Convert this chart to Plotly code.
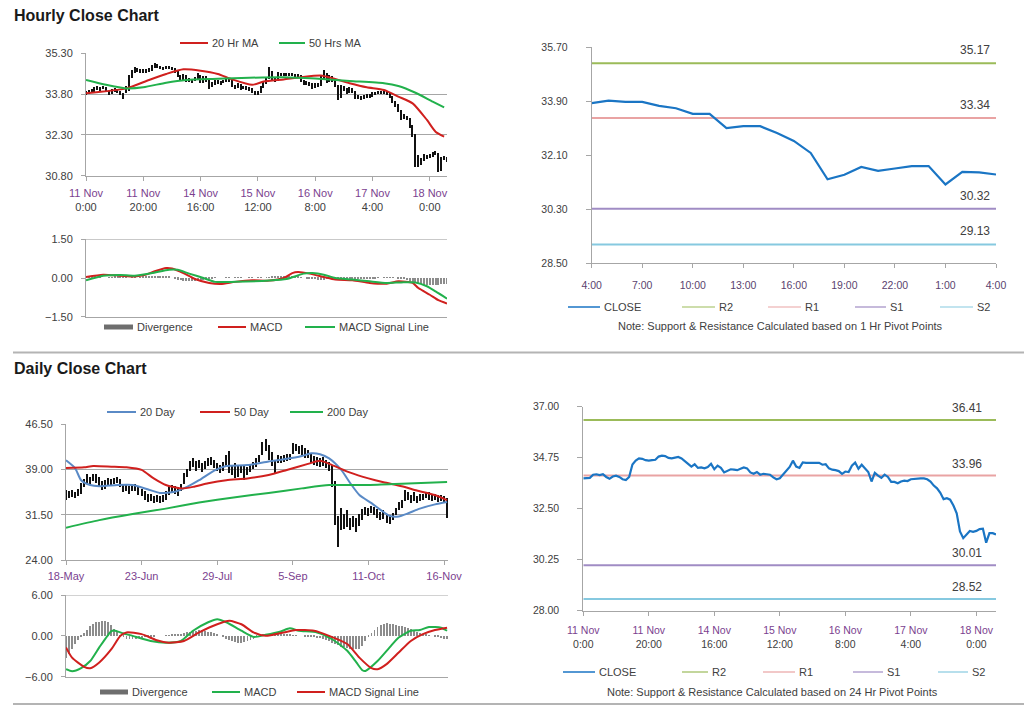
import plotly.graph_objects as go

W, H = 1024, 706
FONT = "Liberation Sans, Arial, sans-serif"
TXT = "#404040"
PURPLE = "#7b3f8f"
AXC = "#a6a6a6"
RED = "#d0201e"
GREEN = "#22b14c"
BLUE = "#5a8ac6"
CLOSE_C = "#1a75c4"
DIV_C = "#8c8c8c"
R2_C, R1_C, S1_C, S2_C = "#9bbb59", "#e9a3a3", "#a08cc4", "#86c9e0"

# ---------------- hourly data (11 Nov 0:00 .. 18 Nov ~5:00) ----------------
h_dates = ["11 Nov", "11 Nov", "14 Nov", "15 Nov", "16 Nov", "17 Nov", "18 Nov"]
h_times = ["0:00", "20:00", "16:00", "12:00", "8:00", "4:00", "0:00"]
h_tickpos = [0, 20, 40, 60, 80, 100, 120]

h_close = [33.84, 33.84, 33.86, 34.00, 34.02, 33.98, 34.02, 33.90, 33.82, 33.92,
           33.96, 33.90, 33.80, 33.76, 33.90, 34.45, 34.62, 34.72, 34.70, 34.64,
           34.62, 34.64, 34.66, 34.80, 34.84, 34.82, 34.74, 34.72, 34.76, 34.78,
           34.72, 34.62, 34.48, 34.36, 34.46, 34.30, 34.32, 34.28, 34.34, 34.48,
           34.24, 34.40, 34.30, 34.10, 34.18, 34.24, 34.22, 34.20, 34.26, 34.32,
           34.28, 34.10, 34.04, 34.12, 34.00, 34.04, 34.02, 34.00, 33.88, 33.80,
           33.84, 34.02, 34.18, 34.34, 34.62, 34.36, 34.30, 34.54, 34.52, 34.52,
           34.52, 34.50, 34.52, 34.44, 34.46, 34.28, 34.22, 34.20, 34.16, 34.04,
           34.14, 34.12, 34.40, 34.54, 34.26, 34.44, 34.30, 34.12, 33.70, 34.08,
           33.96, 33.86, 34.00, 33.90, 33.68, 33.68, 33.62, 33.70, 33.74, 33.72,
           33.80, 33.82, 33.84, 33.84, 33.84, 33.80, 33.70, 33.52, 33.40, 33.20,
           32.92, 32.96, 32.90, 32.64, 32.30, 31.50, 31.20, 31.36, 31.52, 31.48,
           31.52, 31.60, 31.62, 31.00, 31.42, 31.42, 31.36]
h_high = [33.92, 33.95, 33.98, 34.05, 34.08, 34.06, 34.10, 34.04, 33.92, 33.98,
          34.02, 33.98, 33.92, 33.84, 34.08, 34.50, 34.68, 34.78, 34.76, 34.72,
          34.70, 34.70, 34.74, 34.86, 34.92, 34.90, 34.84, 34.80, 34.84, 34.84,
          34.80, 34.74, 34.64, 34.50, 34.52, 34.48, 34.38, 34.36, 34.42, 34.56,
          34.50, 34.46, 34.44, 34.32, 34.24, 34.30, 34.30, 34.28, 34.32, 34.38,
          34.36, 34.30, 34.14, 34.18, 34.16, 34.10, 34.08, 34.06, 34.02, 33.90,
          33.92, 34.08, 34.24, 34.40, 34.80, 34.64, 34.42, 34.60, 34.58, 34.58,
          34.58, 34.56, 34.58, 34.54, 34.52, 34.48, 34.30, 34.28, 34.24, 34.18,
          34.20, 34.20, 34.46, 34.66, 34.56, 34.50, 34.46, 34.32, 34.14, 34.14,
          34.10, 34.00, 34.06, 34.02, 33.92, 33.76, 33.72, 33.76, 33.80, 33.80,
          33.86, 33.88, 33.90, 33.92, 33.90, 33.88, 33.82, 33.72, 33.54, 33.42,
          33.22, 33.04, 33.00, 32.92, 32.66, 32.32, 31.56, 31.44, 31.58, 31.56,
          31.58, 31.66, 31.70, 31.64, 31.48, 31.50, 31.46]
h_low = [33.76, 33.80, 33.82, 33.84, 33.95, 33.92, 33.96, 33.86, 33.76, 33.80,
         33.88, 33.84, 33.74, 33.62, 33.84, 33.92, 34.38, 34.58, 34.62, 34.58,
         34.56, 34.58, 34.60, 34.64, 34.76, 34.76, 34.70, 34.66, 34.70, 34.70,
         34.66, 34.56, 34.42, 34.30, 34.32, 34.24, 34.24, 34.20, 34.26, 34.30,
         34.18, 34.20, 34.24, 33.98, 34.04, 34.14, 34.16, 34.14, 34.18, 34.22,
         34.22, 34.04, 33.96, 34.00, 33.94, 33.96, 33.94, 33.90, 33.82, 33.74,
         33.76, 33.84, 34.00, 34.16, 34.34, 34.30, 34.24, 34.28, 34.46, 34.46,
         34.44, 34.44, 34.46, 34.38, 34.38, 34.22, 34.14, 34.12, 34.08, 33.98,
         34.02, 34.04, 34.10, 34.36, 34.20, 34.24, 34.24, 34.06, 33.56, 33.66,
         33.90, 33.80, 33.84, 33.84, 33.62, 33.62, 33.56, 33.60, 33.66, 33.66,
         33.70, 33.76, 33.78, 33.78, 33.78, 33.74, 33.64, 33.46, 33.32, 33.12,
         32.84, 32.86, 32.82, 32.56, 32.20, 31.10, 31.12, 31.18, 31.34, 31.40,
         31.44, 31.48, 31.54, 30.92, 30.98, 31.36, 31.30]

h_ma20_x = [0, 14, 22, 28, 34, 40, 46, 51, 58, 62, 69, 75, 82, 86, 92, 98, 104, 109, 114, 119, 122, 125]
h_ma20 = [33.83, 34.01, 34.32, 34.54, 34.71, 34.66, 34.54, 34.34, 34.14, 34.26, 34.34,
          34.42, 34.48, 34.38, 34.20, 34.05, 33.95, 33.71, 33.46, 32.85, 32.42, 32.24]
h_ma50_x = [0, 7, 14, 20, 28, 35, 46, 57, 69, 80, 92, 104, 109, 115, 121, 125]
h_ma50 = [34.32, 34.14, 34.01, 34.05, 34.22, 34.32, 34.36, 34.40, 34.42, 34.37, 34.28,
          34.20, 34.10, 33.85, 33.52, 33.31]

h_macd_x = [0, 6, 12, 17, 21, 24, 28, 30, 34, 38, 43, 47, 52, 58, 64, 69, 72, 74, 78, 83,
            87, 93, 99, 105, 109, 114, 116, 120, 123, 126]
h_macd = [0.04, 0.13, 0.09, 0.06, 0.13, 0.26, 0.39, 0.37, 0.19, -0.04, -0.19, -0.23, -0.15,
          -0.09, -0.10, 0.0, 0.19, 0.23, 0.17, 0.04, -0.06, -0.09, -0.19, -0.22, -0.13, -0.19,
          -0.39, -0.65, -0.86, -0.99]
h_sig_x = [0, 6, 12, 17, 23, 29, 32, 36, 41, 45, 52, 64, 70, 76, 79, 83, 87, 93, 99, 105,
           110, 115, 119, 122, 126]
h_sig = [-0.09, 0.09, 0.12, 0.09, 0.19, 0.32, 0.32, 0.17, 0.0, -0.15, -0.15, -0.10, -0.04,
         0.17, 0.19, 0.13, 0.0, -0.06, -0.13, -0.19, -0.17, -0.17, -0.32, -0.52, -0.80]
h_div = [0.08, 0.06, 0.04, 0.03, 0.02, 0.01, 0.0, 0.0, 0.01, 0.02,
         0.03, 0.03, 0.03, 0.02, 0.01, 0.0, -0.01, -0.01, 0.0, 0.02,
         0.04, 0.05, 0.06, 0.07, 0.07, 0.08, 0.08, 0.07, 0.05, 0.03,
         0.0, -0.04, -0.07, -0.09, -0.11, -0.12, -0.13, -0.13, -0.12, -0.11,
         -0.09, -0.07, -0.05, -0.03, -0.02, -0.01, 0.0, 0.0, 0.0, 0.01,
         0.01, 0.0, -0.01, -0.01, -0.01, 0.0, 0.0, 0.01, 0.01, 0.0,
         -0.01, -0.01, 0.0, 0.01, 0.02, 0.03, 0.04, 0.05, 0.06, 0.06,
         0.06, 0.05, 0.05, 0.04, 0.03, 0.02, 0.0, -0.02, -0.04, -0.05,
         -0.06, -0.07, -0.07, -0.07, -0.06, -0.05, -0.04, -0.03, -0.03, -0.04,
         -0.04, -0.04, -0.05, -0.05, -0.05, -0.05, -0.05, -0.05, -0.04, -0.04,
         -0.03, -0.02, -0.01, 0.0, 0.01, 0.02, 0.02, 0.01, 0.0, -0.02,
         -0.04, -0.06, -0.09, -0.12, -0.15, -0.19, -0.23, -0.26, -0.28, -0.29,
         -0.29, -0.29, -0.28, -0.27, -0.26, -0.25, -0.24]

# last 24 hours (1 Hr pivot chart)
e_times = ["4:00", "7:00", "10:00", "13:00", "16:00", "19:00", "22:00", "1:00", "4:00"]
e_close = [33.84, 33.92, 33.88, 33.88, 33.75, 33.67, 33.48, 33.48, 33.01, 33.07, 33.07,
           32.84, 32.58, 32.18, 31.30, 31.45, 31.71, 31.58, 31.66, 31.74, 31.74, 31.13,
           31.55, 31.53, 31.46]
e_levels = {"R2": 35.17, "R1": 33.34, "S1": 30.32, "S2": 29.13}
f_levels = {"R2": 36.41, "R1": 33.96, "S1": 30.01, "S2": 28.52}

# ---------------- daily data (18 May .. 16 Nov) ----------------
d_dates = ["18-May", "23-Jun", "29-Jul", "5-Sep", "11-Oct", "16-Nov"]
d_tickpos = [0, 25, 50, 75, 100, 125]
d_high = [35.5, 35.4, 35.6, 35.3, 35.8, 36.7, 37.4, 38.3, 37.8, 38.3,
          38.2, 37.8, 37.0, 37.2, 37.6, 37.4, 37.6, 37.8, 37.4, 36.6,
          36.6, 36.3, 36.6, 36.5, 36.2, 35.8, 35.4, 35.0, 34.9, 34.6,
          34.8, 34.6, 34.8, 35.4, 36.0, 36.4, 36.2, 36.0, 36.6, 38.4,
          39.0, 40.4, 40.8, 40.4, 40.6, 40.0, 40.4, 40.8, 41.0, 40.6,
          40.0, 39.8, 40.2, 41.4, 42.0, 39.6, 40.0, 39.6, 39.8, 39.6,
          39.4, 39.8, 40.2, 40.8, 41.4, 43.6, 44.1, 43.0, 41.8, 40.6,
          41.4, 41.2, 41.4, 41.6, 41.6, 43.4, 43.2, 42.8, 43.0, 42.6,
          42.2, 41.6, 41.2, 41.0, 40.8, 41.0, 40.6, 40.2, 39.8, 37.0,
          31.2, 32.6, 31.6, 32.2, 31.0, 31.2, 31.0, 31.6, 32.4, 32.8,
          32.6, 33.0, 32.8, 32.4, 32.0, 32.2, 31.6, 31.4, 31.8, 32.6,
          33.6, 34.0, 35.6, 35.2, 34.8, 35.2, 34.6, 35.0, 35.0, 35.2,
          35.2, 35.0, 35.0, 34.8, 34.8, 34.6, 34.2]
d_low = [34.0, 34.2, 34.5, 34.3, 34.6, 35.0, 36.0, 36.8, 36.4, 37.0,
         36.8, 36.2, 35.6, 35.8, 36.4, 36.2, 36.6, 36.7, 36.0, 35.2,
         35.4, 35.0, 35.4, 35.4, 34.8, 34.6, 34.0, 33.6, 33.8, 33.4,
         33.6, 33.5, 33.6, 34.0, 34.8, 35.2, 35.0, 34.6, 35.4, 36.6,
         37.8, 38.8, 39.4, 38.8, 39.2, 38.6, 39.0, 39.6, 39.8, 39.2,
         38.8, 38.4, 38.8, 39.6, 38.4, 38.0, 37.6, 37.8, 38.4, 37.2,
         38.0, 38.6, 39.0, 39.4, 40.2, 41.4, 42.0, 40.6, 39.6, 38.4,
         40.0, 40.0, 40.2, 40.4, 40.6, 41.6, 42.0, 41.6, 41.4, 40.8,
         40.8, 40.0, 39.8, 39.6, 39.4, 39.6, 39.2, 38.8, 36.0, 29.8,
         26.2, 29.0, 29.2, 29.4, 29.0, 29.4, 28.6, 29.6, 30.6, 31.4,
         31.2, 31.8, 31.4, 31.0, 30.6, 30.8, 30.2, 30.0, 30.6, 31.4,
         32.2, 32.6, 33.8, 34.0, 33.4, 33.8, 33.4, 33.8, 34.0, 34.2,
         34.0, 33.8, 34.0, 33.6, 33.8, 33.6, 31.0]

d_ma20_x = [0, 3, 5, 8, 11, 17, 22, 27, 31, 36, 40, 44, 49, 53, 60, 67, 72, 78, 81, 84,
            87, 91, 94, 97, 101, 104, 107, 110, 113, 117, 122, 126]
d_ma20 = [40.5, 39.2, 37.2, 36.4, 36.2, 36.4, 36.4, 35.7, 35.1, 35.3, 36.1, 37.2, 38.8,
          39.55, 39.7, 40.3, 40.65, 41.2, 41.65, 41.5, 40.8, 38.9, 36.7, 34.75, 33.4, 32.3,
          31.3, 31.2, 31.7, 32.5, 33.2, 33.6]
d_ma50_x = [0, 6, 9, 15, 20, 25, 29, 33, 38, 42, 47, 53, 60, 67, 73, 80, 84, 88, 94, 100,
            105, 111, 116, 122, 126]
d_ma50 = [39.2, 39.33, 39.55, 39.44, 39.33, 38.9, 37.5, 36.4, 35.85, 36.1, 36.7, 37.2, 37.5,
          38.06, 38.9, 39.9, 40.4, 39.7, 38.45, 37.5, 36.85, 36.2, 35.5, 34.75, 33.9]
d_ma200_x = [0, 11, 22, 33, 44, 56, 67, 78, 87, 100, 111, 126]
d_ma200 = [29.35, 30.6, 31.6, 32.5, 33.5, 34.4, 35.1, 35.85, 36.4, 36.4, 36.6, 36.9]

d_macd_x = [0, 2, 5, 8, 11, 15, 16, 19, 22, 28, 33, 38, 42, 47, 50, 53, 58, 62, 66, 71,
            74, 77, 83, 88, 93, 96, 98, 99, 103, 107, 110, 114, 117, 120, 124, 126]
d_macd = [-4.9, -5.2, -4.75, -3.7, -1.7, 0.7, 0.8, 0.35, 0.0, -0.75, -1.0, -0.75, 0.75, 2.0,
          2.45, 2.0, 0.75, -0.15, 0.15, 0.65, 1.1, 0.75, 0.5, -0.5, -2.2, -3.9, -5.05, -5.15,
          -3.7, -1.7, -0.25, 0.75, 0.85, 1.3, 1.2, 0.75]
d_sig_x = [0, 2, 6, 8, 11, 15, 18, 20, 25, 30, 34, 39, 44, 50, 54, 58, 62, 66, 72, 76,
           82, 87, 93, 97, 101, 103, 106, 110, 114, 118, 122, 126]
d_sig = [-1.7, -3.2, -4.55, -4.75, -3.9, -1.95, 0.0, 0.5, 0.25, -0.65, -1.0, -0.75, 0.5, 1.7,
         2.2, 1.7, 0.5, 0.0, 0.5, 0.85, 0.75, 0.0, -1.2, -3.2, -4.75, -4.9, -4.15, -2.45,
         -0.75, 0.25, 0.85, 1.2]
d_div = [-3.2, -2.6, -1.9, -1.2, -0.6, -0.1, 0.4, 0.9, 1.4, 1.8,
         2.0, 2.1, 2.2, 2.2, 2.0, 1.6, 1.0, 0.5, 0.1, -0.2,
         -0.4, -0.5, -0.5, -0.4, -0.3, -0.3, -0.2, -0.2, -0.1, -0.1,
         0.0, 0.0, 0.0, 0.1, 0.1, 0.2, 0.2, 0.3, 0.3, 0.4,
         0.5, 0.6, 0.7, 0.7, 0.8, 0.8, 0.7, 0.6, 0.5, 0.4,
         0.2, 0.0, -0.2, -0.4, -0.6, -0.8, -0.9, -1.0, -1.0, -0.9,
         -0.8, -0.6, -0.4, -0.2, 0.0, 0.2, 0.3, 0.3, 0.3, 0.3,
         0.3, 0.2, 0.2, 0.2, 0.2, 0.1, 0.1, 0.0, 0.0, -0.1,
         -0.1, -0.2, -0.2, -0.3, -0.3, -0.4, -0.6, -0.8, -1.0, -1.2,
         -1.4, -1.6, -1.7, -1.8, -1.9, -2.0, -2.0, -1.9, -1.5, -0.8,
         -0.2, 0.4, 0.9, 1.3, 1.6, 1.8, 1.9, 1.8, 1.7, 1.6,
         1.5, 1.4, 1.3, 1.2, 1.0, 0.8, 0.6, 0.4, 0.3, 0.2,
         0.1, 0.0, -0.1, -0.2, -0.3, -0.4, -0.5]


def px(x):
    return x / W


def py(y):
    return 1 - y / H


h_idx = list(range(len(h_close)))
d_idx = list(range(len(d_high)))

fig = go.Figure()


def line(x, y, color, ax, width=2, spline=True):
    fig.add_trace(go.Scatter(x=x, y=y, mode="lines", xaxis=ax[0], yaxis=ax[1],
                             line=dict(color=color, width=width,
                                       shape="spline" if spline else "linear", smoothing=0.6),
                             showlegend=False, hoverinfo="skip"))


def bars(x, lo, hi, ax, color, width):
    fig.add_trace(go.Bar(x=x, y=[b - a for a, b in zip(lo, hi)], base=lo,
                         xaxis=ax[0], yaxis=ax[1], width=width,
                         marker=dict(color=color, line=dict(width=0)),
                         showlegend=False, hoverinfo="skip"))


def divbars(x, y, ax, width):
    fig.add_trace(go.Bar(x=x, y=y, xaxis=ax[0], yaxis=ax[1], width=width,
                         marker=dict(color=DIV_C, line=dict(width=0)),
                         showlegend=False, hoverinfo="skip"))


# A: hourly price
bars(h_idx, h_low, h_high, ("x", "y"), "#111111", 0.45)
line(h_ma20_x, h_ma20, RED, ("x", "y"))
line(h_ma50_x, h_ma50, GREEN, ("x", "y"))
# B: hourly MACD
divbars(h_idx, h_div, ("x2", "y2"), 0.35)
line(h_macd_x, h_macd, RED, ("x2", "y2"))
line(h_sig_x, h_sig, GREEN, ("x2", "y2"))
# C: daily price
bars(d_idx, d_low, d_high, ("x3", "y3"), "#111111", 0.4)
line(d_ma20_x, d_ma20, BLUE, ("x3", "y3"))
line(d_ma50_x, d_ma50, RED, ("x3", "y3"))
line(d_ma200_x, d_ma200, GREEN, ("x3", "y3"))
# D: daily MACD
divbars(d_idx, d_div, ("x4", "y4"), 0.3)
line(d_macd_x, d_macd, GREEN, ("x4", "y4"))
line(d_sig_x, d_sig, RED, ("x4", "y4"))
# E: 1 Hr pivot chart
lvl_colors = {"R2": R2_C, "R1": R1_C, "S1": S1_C, "S2": S2_C}
e_n = len(e_close) - 1
for k, v in e_levels.items():
    line([0, e_n], [v, v], lvl_colors[k], ("x5", "y5"), width=2, spline=False)
line(list(range(len(e_close))), e_close, CLOSE_C, ("x5", "y5"), width=2.2, spline=False)
# F: 24 Hr pivot chart
f_n = len(h_close) - 1
for k, v in f_levels.items():
    line([0, f_n], [v, v], lvl_colors[k], ("x6", "y6"), width=2, spline=False)
line(h_idx, h_close, CLOSE_C, ("x6", "y6"), width=2.2, spline=False)

tickfont_l = dict(family=FONT, size=11, color=TXT)
tickfont_r = dict(family=FONT, size=10.5, color=TXT)


def yaxis(dom, rng, tv, grid, anchor, font, standoff, ticklen=4):
    return dict(domain=[py(dom[1]), py(dom[0])], range=rng, tickvals=tv, tickformat=".2f",
                showgrid=grid, gridcolor=AXC, gridwidth=1, showline=True, linecolor=AXC,
                linewidth=1, ticks="outside", ticklen=ticklen, tickcolor=AXC, tickfont=font,
                zeroline=False, anchor=anchor, ticklabelstandoff=standoff, fixedrange=True,
                automargin=False)


def xaxis(dom, rng, tv, tt, anchor, font, standoff, showlabels=True):
    return dict(domain=[px(dom[0]), px(dom[1])], range=rng, tickvals=tv, ticktext=tt,
                showgrid=False, showline=True, linecolor=AXC, linewidth=1,
                ticks="outside" if showlabels else "", ticklen=4, tickcolor=AXC,
                tickfont=font, showticklabels=showlabels, zeroline=False, anchor=anchor,
                ticklabelstandoff=standoff, tickangle=0, fixedrange=True, automargin=False)


def two_line(d, t):
    return "<span style='color:%s'>%s</span><br>%s" % (PURPLE, d, t)


h_tt = [two_line(d, t) for d, t in zip(h_dates, h_times)]
d_tt = ["<span style='color:%s'>%s</span>" % (PURPLE, d) for d in d_dates]
e_tt = ["<span style='color:#5a3f6e'>%s</span>" % t for t in e_times]

h_rng = [0, len(h_close) - 1]

fig.update_layout(
    width=W, height=H, margin=dict(l=0, r=0, t=0, b=0, pad=0, autoexpand=False),
    paper_bgcolor="white", plot_bgcolor="white", barmode="overlay", bargap=0,
    font=dict(family=FONT, color=TXT), showlegend=False,
    xaxis=xaxis((86, 447), h_rng, h_tickpos, h_tt, "y", tickfont_l, 3),
    yaxis=yaxis((53.3, 175.7), [30.8, 35.3], [30.8, 32.3, 33.8, 35.3], True, "x", tickfont_l, 6),
    xaxis2=xaxis((86, 447), h_rng, h_tickpos, None, "y2", tickfont_l, 3, showlabels=False),
    yaxis2=yaxis((239.3, 316.7), [-1.5, 1.5], [-1.5, 0, 1.5], False, "x2", tickfont_l, 6),
    xaxis3=xaxis((66, 448), [0, 126.3], d_tickpos, d_tt, "y3", tickfont_l, 2),
    yaxis3=yaxis((424, 560), [24, 46.5], [24, 31.5, 39, 46.5], True, "x3", tickfont_l, 6),
    xaxis4=xaxis((66, 448), [0, 126.3], d_tickpos, None, "y4", tickfont_l, 2, showlabels=False),
    yaxis4=yaxis((595, 676.7), [-6, 6], [-6, 0, 6], False, "x4", tickfont_l, 6),
    xaxis5=xaxis((591.7, 996), [0, e_n], list(range(0, e_n + 1, 3)), e_tt, "y5", tickfont_r, 8),
    yaxis5=yaxis((47.3, 263.3), [28.5, 35.7], [28.5, 30.3, 32.1, 33.9, 35.7], False, "x5",
                 tickfont_r, 16, ticklen=5),
    xaxis6=xaxis((583.3, 996), h_rng, h_tickpos, h_tt, "y6", tickfont_r, 6),
    yaxis6=yaxis((406.7, 610.7), [28, 37], [28, 30.25, 32.5, 34.75, 37], False, "x6",
                 tickfont_r, 16, ticklen=5),
)

shapes = []
annots = []

# top gridlines of MACD panels
for xa, ya, v in (("x2", "y2", 1.5), ("x4", "y4", 6)):
    shapes.append(dict(type="line", xref=xa + " domain", yref=ya, x0=0, x1=1, y0=v, y1=v,
                       line=dict(color=AXC, width=1), layer="below"))

# section separators
for yy in (352.5, 704):
    shapes.append(dict(type="line", xref="paper", yref="paper", x0=px(13), x1=1,
                       y0=py(yy), y1=py(yy), line=dict(color="#b4b4b4", width=2)))

# titles
for txt, yy in (("Hourly Close Chart", 16), ("Daily Close Chart", 369)):
    annots.append(dict(xref="paper", yref="paper", x=px(12), y=py(yy), text="<b>%s</b>" % txt,
                       xanchor="left", yanchor="middle", showarrow=False,
                       font=dict(family=FONT, size=16, color="#1a1a1a")))


def leg(x0, x1, y, color, label, width=2, size=11):
    shapes.append(dict(type="line", xref="paper", yref="paper", x0=px(x0), x1=px(x1),
                       y0=py(y), y1=py(y), line=dict(color=color, width=width)))
    annots.append(dict(xref="paper", yref="paper", x=px(x1 + 2), y=py(y), text=label,
                       xanchor="left", yanchor="middle", showarrow=False,
                       font=dict(family=FONT, size=size, color=TXT)))


# legends
leg(180, 208, 43, RED, "20 Hr MA")
leg(279, 305, 43, GREEN, "50 Hrs MA")
leg(104, 133, 327, "#6e6e6e", "Divergence", width=5)
leg(218, 246, 327, RED, "MACD")
leg(305, 335, 327, GREEN, "MACD Signal Line")
leg(107, 136, 412, BLUE, "20 Day")
leg(200, 230, 412, RED, "50 Day")
leg(290, 323, 412, GREEN, "200 Day")
leg(100, 128, 692, "#6e6e6e", "Divergence", width=5)
leg(212, 240, 692, GREEN, "MACD")
leg(297, 325, 692, RED, "MACD Signal Line")

leg(568, 600, 307, CLOSE_C, "CLOSE", width=1.5)
leg(682, 715, 307, R2_C, "R2", width=1.2)
leg(768, 801, 307, R1_C, "R1", width=1.2)
leg(855, 886, 307, S1_C, "S1", width=1.2)
leg(940, 973, 307, S2_C, "S2", width=1.2)
leg(563, 595, 672, CLOSE_C, "CLOSE", width=1.5)
leg(682, 708, 672, R2_C, "R2", width=1.2)
leg(763, 795, 672, R1_C, "R1", width=1.2)
leg(853, 883, 672, S1_C, "S1", width=1.2)
leg(938, 968, 672, S2_C, "S2", width=1.2)

annots.append(dict(xref="paper", yref="paper", x=px(780), y=py(326),
                   text="Note: Support & Resistance Calculated based on 1 Hr Pivot Points",
                   xanchor="center", yanchor="middle", showarrow=False,
                   font=dict(family=FONT, size=11, color=TXT)))
annots.append(dict(xref="paper", yref="paper", x=px(772), y=py(692),
                   text="Note: Support & Resistance Calculated based on 24 Hr Pivot Points",
                   xanchor="center", yanchor="middle", showarrow=False,
                   font=dict(family=FONT, size=11, color=TXT)))

# level value labels
for k, v in e_levels.items():
    annots.append(dict(xref="x5", yref="y5", x=e_n, y=v, text="%.2f" % v, xanchor="right",
                       yanchor="bottom", xshift=-4, yshift=4, showarrow=False,
                       font=dict(family=FONT, size=12, color=TXT)))
for k, v in f_levels.items():
    annots.append(dict(xref="x6", yref="y6", x=f_n, y=v, text="%.2f" % v, xanchor="right",
                       yanchor="bottom", xshift=-12, yshift=3, showarrow=False,
                       font=dict(family=FONT, size=12, color=TXT)))

fig.update_layout(shapes=shapes, annotations=annots)
fig.write_html("out.html", config={"responsive": False, "displayModeBar": False},
               post_script="document.body.style.margin='0';document.body.style.overflow='hidden';")
